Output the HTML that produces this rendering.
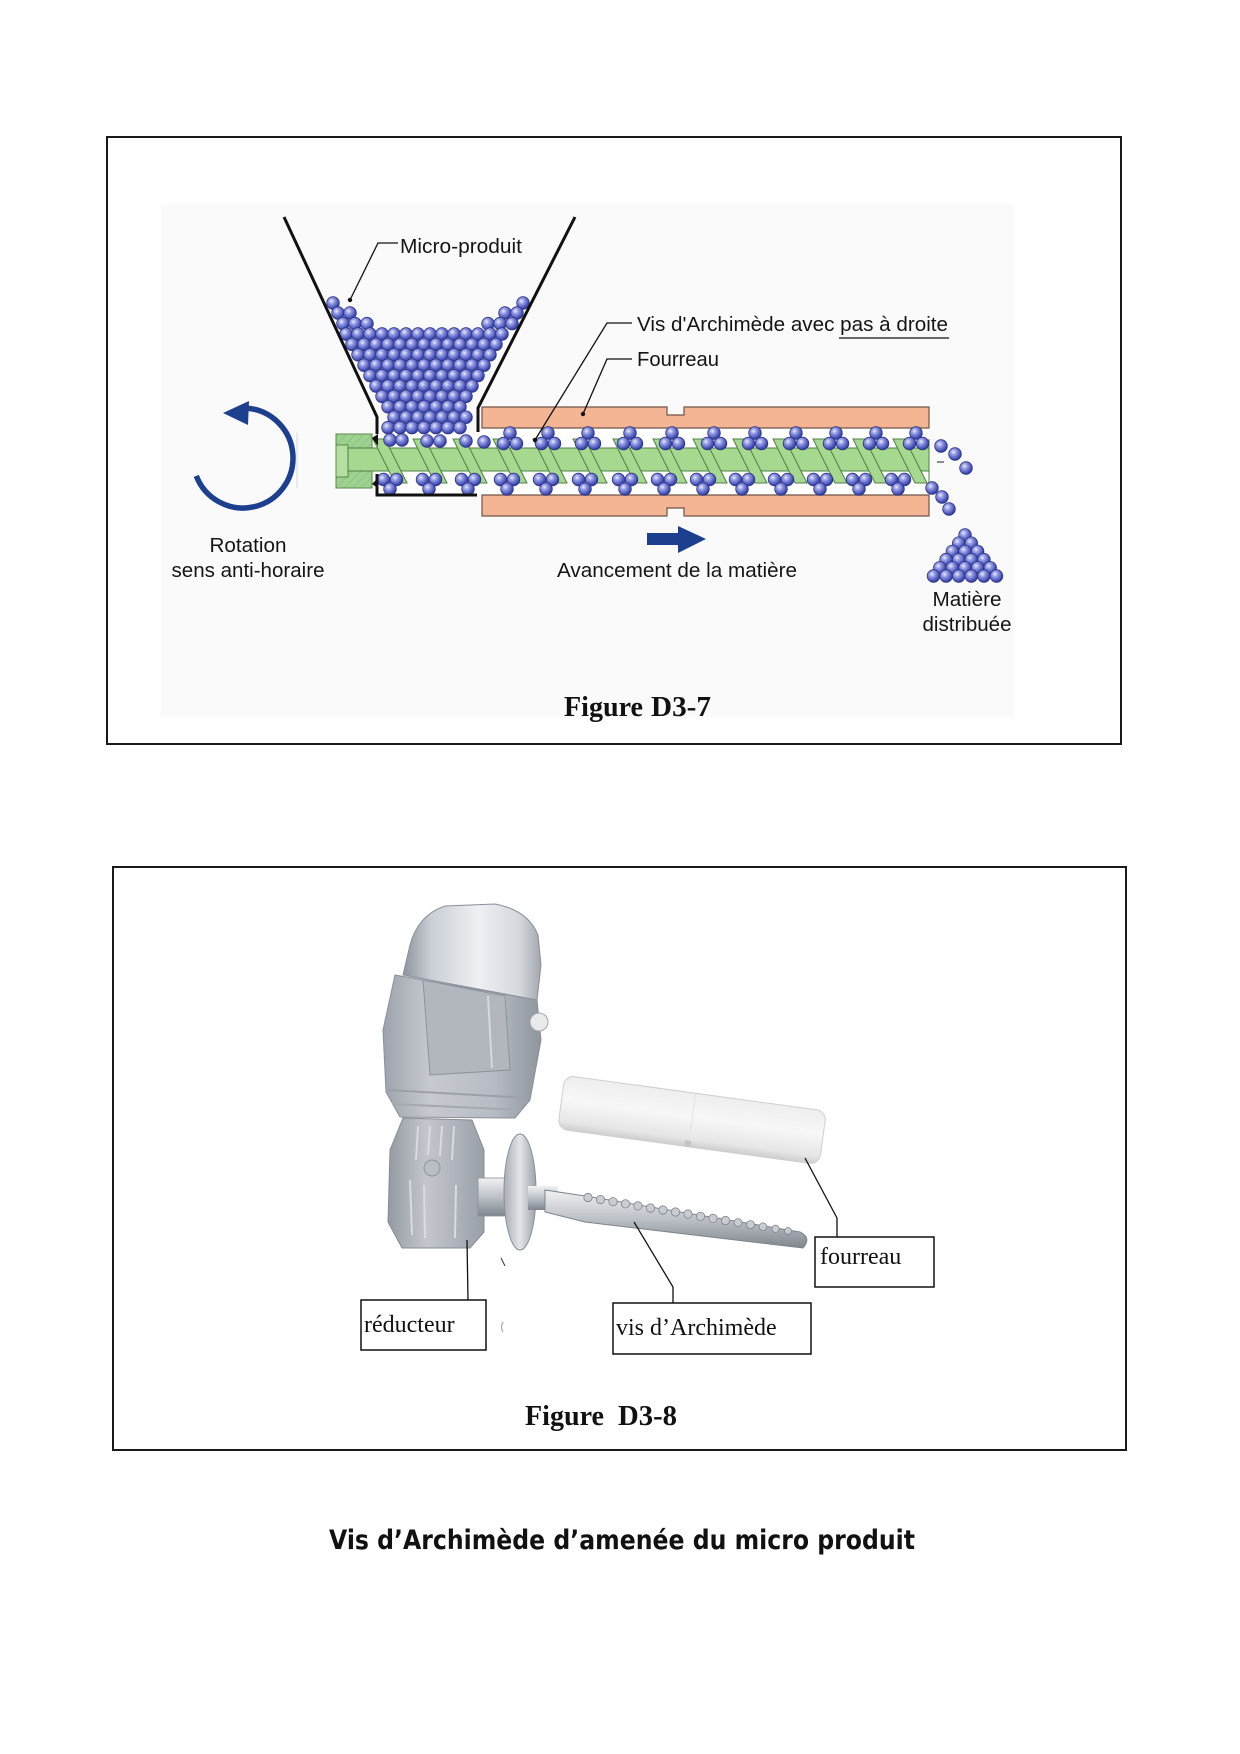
<!DOCTYPE html>
<html><head><meta charset="utf-8"><style>html,body{margin:0;padding:0;background:#fff}svg{display:block}</style></head>
<body>
<svg xmlns="http://www.w3.org/2000/svg" width="1240" height="1754" viewBox="0 0 1240 1754">
<defs>
<radialGradient id="bg" cx="0.38" cy="0.35" r="0.65">
<stop offset="0" stop-color="#eef0ff"/><stop offset="0.3" stop-color="#9ca3e6"/><stop offset="0.75" stop-color="#525dc0"/><stop offset="1" stop-color="#323b98"/>
</radialGradient>
<circle id="b" cx="0" cy="0" r="6.3" fill="url(#bg)" stroke="#2c3384" stroke-width="0.8"/>
<g id="ct"><use href="#b" x="0" y="433"/><use href="#b" x="-6.5" y="443.5"/><use href="#b" x="6.5" y="443.5"/></g>
<g id="cb"><use href="#b" x="-6.5" y="479.5"/><use href="#b" x="6.5" y="479.5"/><use href="#b" x="0" y="489"/></g>
<polygon id="fl" points="0,439 12,439 34,483 22,483" fill="#a6d88f" stroke="#4f7f44" stroke-width="1"/>
<pattern id="hatch" width="6" height="6" patternUnits="userSpaceOnUse" patternTransform="rotate(45)">
<rect width="6" height="6" fill="#9fd28a"/><line x1="0" y1="0" x2="0" y2="6" stroke="#7fb9a0" stroke-width="1.4"/>
</pattern>
<linearGradient id="dome" x1="0" y1="0" x2="1" y2="0">
<stop offset="0" stop-color="#8e949c"/><stop offset="0.2" stop-color="#c9ced4"/><stop offset="0.55" stop-color="#eef0f3"/><stop offset="0.85" stop-color="#d3d7dc"/><stop offset="1" stop-color="#a2a7ae"/>
</linearGradient>
<linearGradient id="body" x1="0" y1="0" x2="1" y2="0">
<stop offset="0" stop-color="#9ea3ab"/><stop offset="0.3" stop-color="#c6cad0"/><stop offset="0.7" stop-color="#b7bcc3"/><stop offset="1" stop-color="#8f959d"/>
</linearGradient>
<linearGradient id="gear" x1="0" y1="0" x2="1" y2="0">
<stop offset="0" stop-color="#959aa2"/><stop offset="0.4" stop-color="#c3c7cd"/><stop offset="1" stop-color="#9aa0a8"/>
</linearGradient>
<linearGradient id="silver" x1="0" y1="0" x2="0" y2="1">
<stop offset="0" stop-color="#f0f2f4"/><stop offset="0.5" stop-color="#bcc1c7"/><stop offset="1" stop-color="#80868e"/>
</linearGradient>
<linearGradient id="flange" x1="0" y1="0" x2="1" y2="0">
<stop offset="0" stop-color="#a9aeb5"/><stop offset="0.5" stop-color="#e2e5e8"/><stop offset="1" stop-color="#9ca2a9"/>
</linearGradient>
<linearGradient id="tube" x1="0" y1="0" x2="0" y2="1">
<stop offset="0" stop-color="#eeeeee"/><stop offset="0.45" stop-color="#f7f7f7"/><stop offset="0.85" stop-color="#e6e6e6"/><stop offset="1" stop-color="#cdcdcd"/>
</linearGradient>
</defs>

<rect width="1240" height="1754" fill="#fff"/>

<!-- ===== Figure D3-7 ===== -->
<rect x="161" y="204" width="853" height="513" fill="#fafafa"/>
<rect x="107" y="137" width="1014" height="607" fill="none" stroke="#1a1a1a" stroke-width="2"/>

<!-- barrel interior -->
<rect x="482" y="428" width="447" height="67" fill="#fff"/>
<rect x="377" y="434" width="105" height="61" fill="#fff"/>
<!-- barrel plates -->
<path d="M482,407 H667 V415 H684 V407 H929 V428 H482 Z" fill="#f4b594" stroke="#6e5446" stroke-width="1.2"/>
<path d="M482,495 H929 V516 H684 V508 H667 V516 H482 Z" fill="#f4b594" stroke="#6e5446" stroke-width="1.2"/>

<!-- screw -->
<rect x="336" y="434" width="36" height="54" fill="url(#hatch)" stroke="#5a8a4a" stroke-width="1"/>
<rect x="336" y="445" width="12" height="32" fill="#b6dfa2" stroke="#5a8a4a" stroke-width="1"/>
<rect x="348" y="448" width="581" height="23" fill="#a6d88f" stroke="#4f7f44" stroke-width="1"/>
<use href="#fl" x="373"/><use href="#fl" x="413"/><use href="#fl" x="453"/><use href="#fl" x="493"/>
<use href="#fl" x="533"/><use href="#fl" x="573"/><use href="#fl" x="613"/><use href="#fl" x="653"/>
<use href="#fl" x="693"/><use href="#fl" x="733"/><use href="#fl" x="773"/><use href="#fl" x="813"/>
<use href="#fl" x="853"/><use href="#fl" x="893"/>
<line x1="929" y1="439" x2="929" y2="483" stroke="#4f7f44" stroke-width="1"/>

<!-- hopper balls -->
<use href="#b" x="333" y="303"/><use href="#b" x="523" y="303"/>
<use href="#b" x="338" y="313"/><use href="#b" x="350" y="313"/><use href="#b" x="505" y="313"/><use href="#b" x="517" y="313"/>
<use href="#b" x="343" y="323.6"/><use href="#b" x="355" y="323.6"/><use href="#b" x="367" y="323.6"/><use href="#b" x="488" y="323.6"/><use href="#b" x="500" y="323.6"/><use href="#b" x="512" y="323.6"/>
<use href="#b" x="346" y="334"/><use href="#b" x="358" y="334"/><use href="#b" x="370" y="334"/><use href="#b" x="382" y="334"/><use href="#b" x="394" y="334"/><use href="#b" x="406" y="334"/><use href="#b" x="418" y="334"/><use href="#b" x="430" y="334"/><use href="#b" x="442" y="334"/><use href="#b" x="454" y="334"/><use href="#b" x="466" y="334"/><use href="#b" x="478" y="334"/><use href="#b" x="490" y="334"/><use href="#b" x="502" y="334"/>
<use href="#b" x="352" y="344.4"/><use href="#b" x="364" y="344.4"/><use href="#b" x="376" y="344.4"/><use href="#b" x="388" y="344.4"/><use href="#b" x="400" y="344.4"/><use href="#b" x="412" y="344.4"/><use href="#b" x="424" y="344.4"/><use href="#b" x="436" y="344.4"/><use href="#b" x="448" y="344.4"/><use href="#b" x="460" y="344.4"/><use href="#b" x="472" y="344.4"/><use href="#b" x="484" y="344.4"/><use href="#b" x="496" y="344.4"/>
<use href="#b" x="358" y="354.8"/><use href="#b" x="370" y="354.8"/><use href="#b" x="382" y="354.8"/><use href="#b" x="394" y="354.8"/><use href="#b" x="406" y="354.8"/><use href="#b" x="418" y="354.8"/><use href="#b" x="430" y="354.8"/><use href="#b" x="442" y="354.8"/><use href="#b" x="454" y="354.8"/><use href="#b" x="466" y="354.8"/><use href="#b" x="478" y="354.8"/><use href="#b" x="490" y="354.8"/>
<use href="#b" x="364" y="365.2"/><use href="#b" x="376" y="365.2"/><use href="#b" x="388" y="365.2"/><use href="#b" x="400" y="365.2"/><use href="#b" x="412" y="365.2"/><use href="#b" x="424" y="365.2"/><use href="#b" x="436" y="365.2"/><use href="#b" x="448" y="365.2"/><use href="#b" x="460" y="365.2"/><use href="#b" x="472" y="365.2"/><use href="#b" x="484" y="365.2"/>
<use href="#b" x="370" y="375.6"/><use href="#b" x="382" y="375.6"/><use href="#b" x="394" y="375.6"/><use href="#b" x="406" y="375.6"/><use href="#b" x="418" y="375.6"/><use href="#b" x="430" y="375.6"/><use href="#b" x="442" y="375.6"/><use href="#b" x="454" y="375.6"/><use href="#b" x="466" y="375.6"/><use href="#b" x="478" y="375.6"/>
<use href="#b" x="376" y="386"/><use href="#b" x="388" y="386"/><use href="#b" x="400" y="386"/><use href="#b" x="412" y="386"/><use href="#b" x="424" y="386"/><use href="#b" x="436" y="386"/><use href="#b" x="448" y="386"/><use href="#b" x="460" y="386"/><use href="#b" x="472" y="386"/>
<use href="#b" x="382" y="396.4"/><use href="#b" x="394" y="396.4"/><use href="#b" x="406" y="396.4"/><use href="#b" x="418" y="396.4"/><use href="#b" x="430" y="396.4"/><use href="#b" x="442" y="396.4"/><use href="#b" x="454" y="396.4"/><use href="#b" x="466" y="396.4"/>
<use href="#b" x="388" y="406.8"/><use href="#b" x="400" y="406.8"/><use href="#b" x="412" y="406.8"/><use href="#b" x="424" y="406.8"/><use href="#b" x="436" y="406.8"/><use href="#b" x="448" y="406.8"/><use href="#b" x="460" y="406.8"/>
<use href="#b" x="394" y="417.2"/><use href="#b" x="406" y="417.2"/><use href="#b" x="418" y="417.2"/><use href="#b" x="430" y="417.2"/><use href="#b" x="442" y="417.2"/><use href="#b" x="454" y="417.2"/><use href="#b" x="466" y="417.2"/>
<use href="#b" x="388" y="427.6"/><use href="#b" x="400" y="427.6"/><use href="#b" x="412" y="427.6"/><use href="#b" x="424" y="427.6"/><use href="#b" x="436" y="427.6"/><use href="#b" x="448" y="427.6"/><use href="#b" x="460" y="427.6"/>
<use href="#b" x="390" y="440"/><use href="#b" x="402" y="440"/><use href="#b" x="427" y="441"/><use href="#b" x="440" y="441"/><use href="#b" x="466" y="441"/><use href="#b" x="484" y="442"/>

<!-- barrel clusters -->
<use href="#ct" x="510"/><use href="#ct" x="548"/><use href="#ct" x="588"/><use href="#ct" x="630"/><use href="#ct" x="672"/><use href="#ct" x="714"/><use href="#ct" x="755"/><use href="#ct" x="796"/><use href="#ct" x="836"/><use href="#ct" x="876"/><use href="#ct" x="916"/>
<use href="#cb" x="390"/><use href="#cb" x="429"/><use href="#cb" x="468"/><use href="#cb" x="507"/><use href="#cb" x="546"/><use href="#cb" x="585"/><use href="#cb" x="625"/><use href="#cb" x="664"/><use href="#cb" x="703"/><use href="#cb" x="742"/><use href="#cb" x="781"/><use href="#cb" x="820"/><use href="#cb" x="859"/><use href="#cb" x="898"/>

<!-- falling balls -->
<use href="#b" x="941" y="446"/><use href="#b" x="955" y="454"/><use href="#b" x="966" y="468"/>
<use href="#b" x="932" y="488"/><use href="#b" x="942" y="497"/><use href="#b" x="949" y="509"/>
<line x1="937" y1="462" x2="944" y2="462" stroke="#222" stroke-width="1"/>
<!-- pile -->
<use href="#b" x="965" y="535"/>
<use href="#b" x="958.7" y="543.2"/><use href="#b" x="971.3" y="543.2"/>
<use href="#b" x="952.4" y="551.4"/><use href="#b" x="965" y="551.4"/><use href="#b" x="977.6" y="551.4"/>
<use href="#b" x="946.1" y="559.6"/><use href="#b" x="958.7" y="559.6"/><use href="#b" x="971.3" y="559.6"/><use href="#b" x="983.9" y="559.6"/>
<use href="#b" x="939.8" y="567.8"/><use href="#b" x="952.4" y="567.8"/><use href="#b" x="965" y="567.8"/><use href="#b" x="977.6" y="567.8"/><use href="#b" x="990.2" y="567.8"/>
<use href="#b" x="933.5" y="576"/><use href="#b" x="946.1" y="576"/><use href="#b" x="958.7" y="576"/><use href="#b" x="971.3" y="576"/><use href="#b" x="983.9" y="576"/><use href="#b" x="996.5" y="576"/>

<!-- hopper walls -->
<g fill="none" stroke="#111" stroke-width="3" stroke-linejoin="miter">
<path d="M284,217 L377,417 L377,434"/>
<path d="M377,474 L377,495 L477,495"/>
<path d="M575,217 L478,408 L478,432"/>
</g>
<polygon points="372,438 378,434 378,446" fill="#111"/>
<polygon points="372,484 378,478 378,488" fill="#111"/>

<!-- leaders -->
<g fill="none" stroke="#111" stroke-width="1.3">
<path d="M398,243 H378 L350,300"/>
<path d="M632,323 H607 L535,440"/>
<path d="M632,359 H607 L583,414"/>
<line x1="839" y1="338" x2="949" y2="338"/>
</g>
<circle cx="350" cy="300" r="2.2" fill="#111"/>
<circle cx="535" cy="440" r="2.2" fill="#111"/>
<circle cx="583" cy="414" r="2.2" fill="#111"/>

<!-- rotation arrow -->
<path d="M247.4,408.2 A50,50 0 1 1 196.3,475.9" fill="none" stroke="#1c3f8e" stroke-width="5.5"/>
<polygon points="223,413 249,401 248,425" fill="#1c3f8e"/>
<line x1="297" y1="433" x2="297" y2="488" stroke="#d8d8d8" stroke-width="1"/>

<!-- avancement arrow -->
<rect x="647" y="533" width="33" height="12" fill="#1c3f8e"/>
<polygon points="678,526 706,539 678,553" fill="#1c3f8e"/>

<!-- fig1 texts -->
<g font-family="'Liberation Sans', Arial, sans-serif" font-size="20" fill="#151515">
<text x="400" y="253" textLength="122" lengthAdjust="spacingAndGlyphs">Micro-produit</text>
<text x="637" y="331" textLength="311" lengthAdjust="spacingAndGlyphs">Vis d'Archimède avec pas à droite</text>
<text x="637" y="366" textLength="82" lengthAdjust="spacingAndGlyphs">Fourreau</text>
<text x="248" y="552" text-anchor="middle" textLength="77" lengthAdjust="spacingAndGlyphs">Rotation</text>
<text x="248" y="577" text-anchor="middle" textLength="153" lengthAdjust="spacingAndGlyphs">sens anti-horaire</text>
<text x="677" y="577" text-anchor="middle" textLength="240" lengthAdjust="spacingAndGlyphs">Avancement de la matière</text>
<text x="967" y="606" text-anchor="middle" textLength="69" lengthAdjust="spacingAndGlyphs">Matière</text>
<text x="967" y="631" text-anchor="middle" textLength="89" lengthAdjust="spacingAndGlyphs">distribuée</text>
</g>
<g font-family="'Liberation Serif', 'Times New Roman', serif" font-size="28" font-weight="bold" fill="#111">
<text x="564" y="716" textLength="79" lengthAdjust="spacingAndGlyphs">Figure</text>
<text x="651" y="716" textLength="60" lengthAdjust="spacingAndGlyphs">D3-7</text>
</g>

<!-- ===== Figure D3-8 ===== -->
<rect x="113" y="867" width="1013" height="583" fill="none" stroke="#1a1a1a" stroke-width="2"/>

<!-- fourreau tube -->
<g transform="rotate(7.8 692 1120)">
<rect x="560" y="1093" width="264" height="54" rx="10" fill="url(#tube)" stroke="#cfcfcf" stroke-width="1"/>
<line x1="692" y1="1094" x2="692" y2="1146" stroke="#e2e2e2" stroke-width="1"/>
<rect x="688" y="1141" width="6" height="6" fill="#c4c4c4"/>
</g>

<!-- motor -->
<path d="M403,975 L410,945 Q418,915 445,906 L495,904 Q528,910 538,935 L541,965 L537,1000 Z" fill="url(#dome)" stroke="#8a9098" stroke-width="1"/>
<path d="M395,975 L537,1000 L541,1040 L530,1100 L515,1118 L400,1117 L386,1092 L383,1030 Z" fill="url(#body)" stroke="#8a9098" stroke-width="1"/>
<path d="M423,980 L505,996 L510,1070 L430,1075 Z" fill="#b2b7be" stroke="#8d939b" stroke-width="1"/>
<line x1="488" y1="996" x2="492" y2="1068" stroke="#d6d9dd" stroke-width="2"/>
<path d="M388,1090 L530,1098" stroke="#9ca1a8" stroke-width="2" fill="none"/>
<path d="M392,1104 L522,1110" stroke="#a4a9b0" stroke-width="2" fill="none"/>
<circle cx="539" cy="1022" r="9" fill="#e8eaec" stroke="#a0a5ac" stroke-width="1"/>
<!-- gearbox -->
<path d="M403,1118 L472,1120 L484,1150 L484,1232 L470,1248 L402,1248 L388,1222 L390,1150 Z" fill="url(#gear)" stroke="#878d95" stroke-width="1"/>
<g stroke="#d8dbdf" stroke-width="2">
<line x1="418" y1="1126" x2="416" y2="1160"/><line x1="430" y1="1126" x2="428" y2="1155"/><line x1="442" y1="1126" x2="440" y2="1156"/><line x1="454" y1="1126" x2="452" y2="1160"/>
<line x1="410" y1="1180" x2="412" y2="1235"/><line x1="424" y1="1185" x2="425" y2="1238"/><line x1="456" y1="1185" x2="455" y2="1238"/>
</g>
<circle cx="432" cy="1168" r="8" fill="#b9bec4" stroke="#8d939b" stroke-width="1"/>
<!-- shaft coupling + flange -->
<rect x="478" y="1178" width="52" height="38" fill="url(#silver)" stroke="#8a9098" stroke-width="0.8"/>
<ellipse cx="520" cy="1192" rx="16" ry="58" fill="url(#flange)" stroke="#8a9098" stroke-width="1"/>
<rect x="528" y="1186" width="30" height="24" fill="url(#silver)"/>
<!-- screw -->
<path d="M545,1190 L585,1196 L800,1232 Q812,1238 803,1248 L585,1222 L545,1212 Z" fill="url(#silver)" stroke="#7d838b" stroke-width="1"/>
<g fill="#c9cdd2" stroke="#80868e" stroke-width="0.8">
<circle cx="588" cy="1197.5" r="4.2"/><circle cx="600.5" cy="1199.6" r="4.2"/><circle cx="613" cy="1201.7" r="4.2"/><circle cx="625.5" cy="1203.8" r="4.2"/>
<circle cx="638" cy="1205.9" r="4.2"/><circle cx="650.5" cy="1208" r="4.2"/><circle cx="663" cy="1210" r="4.2"/><circle cx="675.5" cy="1212" r="4.2"/>
<circle cx="688" cy="1214" r="4.2"/><circle cx="700.5" cy="1216.3" r="4.2"/><circle cx="713" cy="1218.4" r="4.2"/><circle cx="725.5" cy="1220.5" r="4.2"/>
<circle cx="738" cy="1222.6" r="4"/><circle cx="750.5" cy="1224.6" r="4"/><circle cx="763" cy="1226.7" r="3.8"/><circle cx="775.5" cy="1228.8" r="3.6"/><circle cx="788" cy="1230.9" r="3.4"/>
</g>
<line x1="501" y1="1258" x2="505" y2="1266" stroke="#333" stroke-width="1"/>
<path d="M503,1322 Q500,1327 503,1332" fill="none" stroke="#999" stroke-width="1"/>

<!-- label boxes & leaders -->
<g fill="#fff" stroke="#111" stroke-width="1.5">
<rect x="361" y="1300" width="125" height="50"/>
<rect x="613" y="1303" width="198" height="51"/>
<rect x="815" y="1237" width="119" height="50"/>
</g>
<g fill="none" stroke="#111" stroke-width="1.3">
<path d="M468,1300 L467,1240"/>
<path d="M673,1303 V1287 L634,1222"/>
<path d="M837,1237 V1218 L805,1158"/>
</g>
<g font-family="'Liberation Serif', 'Times New Roman', serif" font-size="24" fill="#111">
<text x="364" y="1332">réducteur</text>
<text x="616" y="1335">vis d’Archimède</text>
<text x="820" y="1264">fourreau</text>
</g>
<g font-family="'Liberation Serif', 'Times New Roman', serif" font-size="28" font-weight="bold" fill="#111">
<text x="525" y="1425" textLength="79" lengthAdjust="spacingAndGlyphs">Figure</text>
<text x="618" y="1425" textLength="59" lengthAdjust="spacingAndGlyphs">D3-8</text>
</g>

<!-- title -->
<text x="329" y="1549" font-family="'DejaVu Sans', 'Liberation Sans', sans-serif" font-size="27" font-weight="bold" fill="#111" textLength="586" lengthAdjust="spacingAndGlyphs">Vis d’Archimède d’amenée du micro produit</text>
</svg>
</body></html>
